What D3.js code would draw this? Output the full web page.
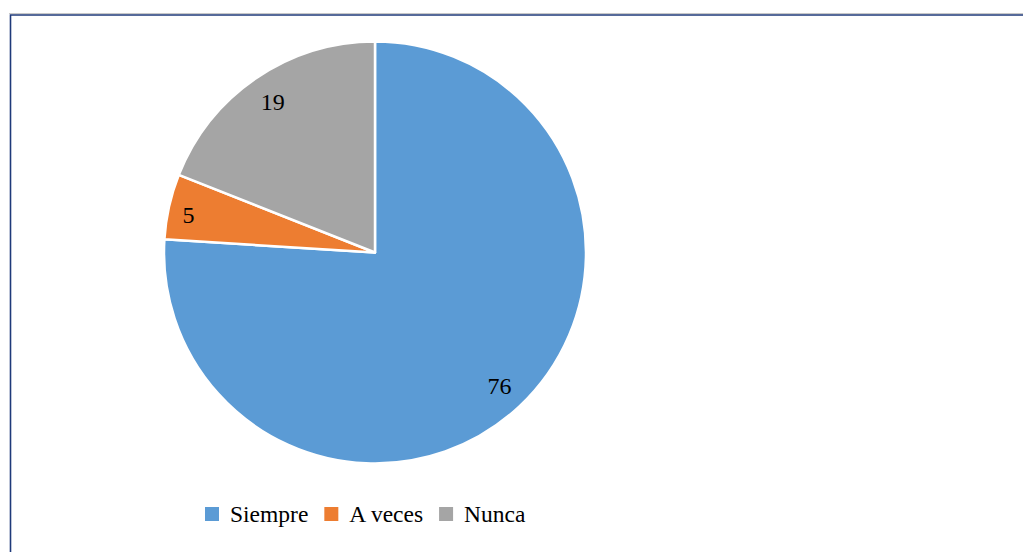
<!DOCTYPE html>
<html>
<head>
<meta charset="utf-8">
<script src="https://cdn.jsdelivr.net/npm/d3@7"></script>
<style>
    body { margin: 0; background: #fff; }
    svg { display: block; }
    .serif { font-family: "Liberation Serif", "Tinos", "Times New Roman", "DejaVu Serif", serif; }
</style>
</head>
<body>
<svg id="chart" width="1023" height="552"></svg>
<script>
const categories = ["Siempre", "A veces", "Nunca"];
const values = [76, 5, 19];
const colors = ["#5B9BD5", "#ED7D31", "#A5A5A5"];

const ctx = {
    WIDTH: 1023,
    HEIGHT: 552,
    CX: 375,
    CY: 252.5,
    RADIUS: 211,
    LABEL_RAD: 182,
    FONT_SIZE: "23.5px",
    // Excel's "best fit" labels don't sit exactly on one radius
    LABEL_NUDGE: { "A veces": [-9, 2] },
};

const svg = d3.select('#chart');

main();

function main() {
    drawFrame();
    drawPie();
    drawLegend();
}

function drawFrame() {
    // faint shadow line above the top border
    svg.append("line")
        .attr("x1", 9).attr("x2", ctx.WIDTH)
        .attr("y1", 13.5).attr("y2", 13.5)
        .attr("stroke", "#c8c8c8").attr("stroke-width", 1);
    svg.append("path")
        .attr("d", `M10.5,${ctx.HEIGHT} L10.5,15 L${ctx.WIDTH},15`)
        .attr("fill", "none")
        .attr("stroke", "#1F3A7A")
        .attr("stroke-width", 1.6);
}

function drawPie() {
    const data = categories.map((c, i) => ({ name: c, value: values[i], color: colors[i] }));

    const pie = d3.pie()
        .value(d => d.value)
        .sort(null);

    const arc = d3.arc()
        .innerRadius(0)
        .outerRadius(ctx.RADIUS);

    const labelArc = d3.arc()
        .innerRadius(ctx.LABEL_RAD)
        .outerRadius(ctx.LABEL_RAD);

    const g = svg.append("g")
        .attr("transform", `translate(${ctx.CX},${ctx.CY})`);

    const arcs = pie(data);

    g.selectAll("path.slice")
        .data(arcs)
        .enter()
        .append("path")
        .attr("class", "slice")
        .attr("d", arc)
        .attr("fill", d => d.data.color)
        .attr("stroke", "#fff")
        .attr("stroke-width", 2.5)
        .attr("stroke-linejoin", "round");

    g.selectAll("text.lbl")
        .data(arcs)
        .enter()
        .append("text")
        .attr("class", "lbl serif")
        .attr("transform", d => {
            const [x, y] = labelArc.centroid(d);
            const [nx, ny] = ctx.LABEL_NUDGE[d.data.name] || [0, 0];
            return `translate(${x + nx},${y + ny})`;
        })
        .attr("text-anchor", "middle")
        .attr("dy", "0.35em")
        .style("font-size", "24px")
        .style("fill", "#000")
        .text(d => d.data.value);
}

function drawLegend() {
    const startX = 205;
    const y = 514;
    const legend = svg.append("g");
    let x = startX;
    categories.forEach((c, i) => {
        legend.append("rect")
            .attr("x", x).attr("y", y - 7)
            .attr("width", 14).attr("height", 14)
            .attr("fill", colors[i]);
        const t = legend.append("text")
            .attr("class", "serif")
            .attr("x", x + 25).attr("y", y + 7.5)
            .style("font-size", ctx.FONT_SIZE)
            .style("fill", "#000")
            .text(c);
        x += 25 + t.node().getComputedTextLength() + 16;
    });
}
</script>
</body>
</html>
